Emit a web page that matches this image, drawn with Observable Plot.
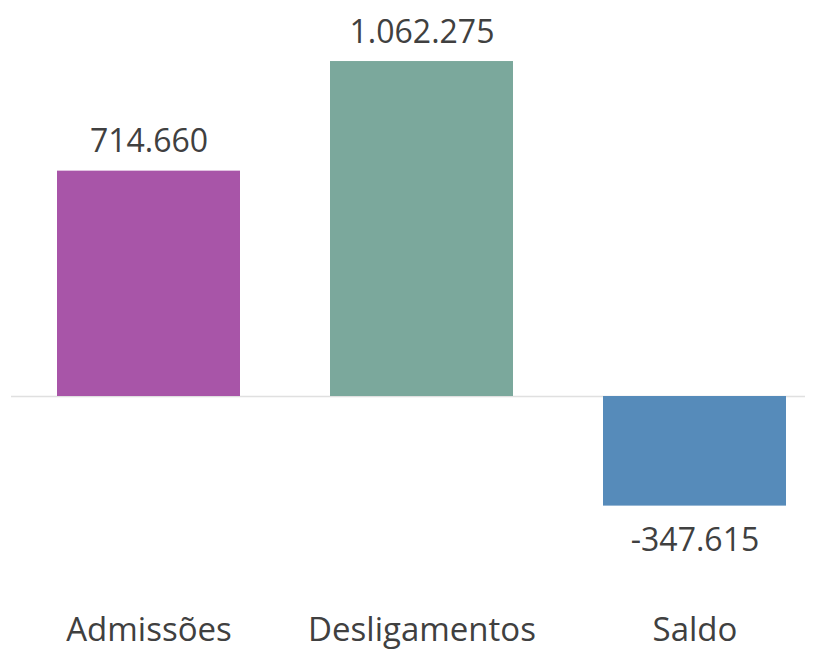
<!DOCTYPE html>
<html>
<head>
<meta charset="utf-8">
<script src="https://cdn.jsdelivr.net/npm/d3@7"></script>
<script src="https://cdn.jsdelivr.net/npm/@observablehq/plot@0.6"></script>
<style>
  html, body { margin: 0; padding: 0; background: #fff; }
  #chart svg { display: block; }
</style>
</head>
<body>
<div id="chart"></div>
<script>
const categories = ["Admissões", "Desligamentos", "Saldo"];
const values = [714660, 1062275, -347615];
const colors = ["#a855a8", "#7ba89c", "#568bba"];

const data = categories.map((c, i) => ({category: c, value: values[i]}));
const fmt = d3.formatLocale({decimal: ",", thousands: ".", grouping: [3], currency: ["R$", ""], minus: "-"}).format(",d");

const font = "'Open Sans', 'Noto Sans', sans-serif";

const chart = Plot.plot({
  width: 820,
  height: 652,
  marginLeft: 29,
  marginRight: 6,
  marginTop: 17.6,
  marginBottom: 66.8,
  style: {fontFamily: font, color: "#404040", background: "#fff"},
  x: {domain: categories, paddingInner: 0.33, paddingOuter: 0.1, label: null},
  y: {domain: [-600000, 1200000], axis: null},
  color: {domain: categories, range: colors},
  marks: [
    Plot.ruleY([0], {stroke: "#e0e0e0", strokeWidth: 1.5, insetLeft: -18, insetRight: 9}),
    Plot.barY(data, {x: "category", y: "value", fill: "category"}),
    Plot.text(data.filter(d => d.value >= 0), {
      x: "category", y: "value", text: d => fmt(d.value),
      lineAnchor: "bottom", dy: -19, fontSize: 32, fill: "#404040"
    }),
    Plot.text(data.filter(d => d.value < 0), {
      x: "category", y: "value", text: d => fmt(d.value),
      lineAnchor: "top", dy: 22, fontSize: 32, fill: "#404040"
    }),
    Plot.axisX({tickSize: 0, tickPadding: 32, fontSize: 33, fill: "#404040", label: null})
  ]
});
document.getElementById("chart").appendChild(chart);
</script>
</body>
</html>
